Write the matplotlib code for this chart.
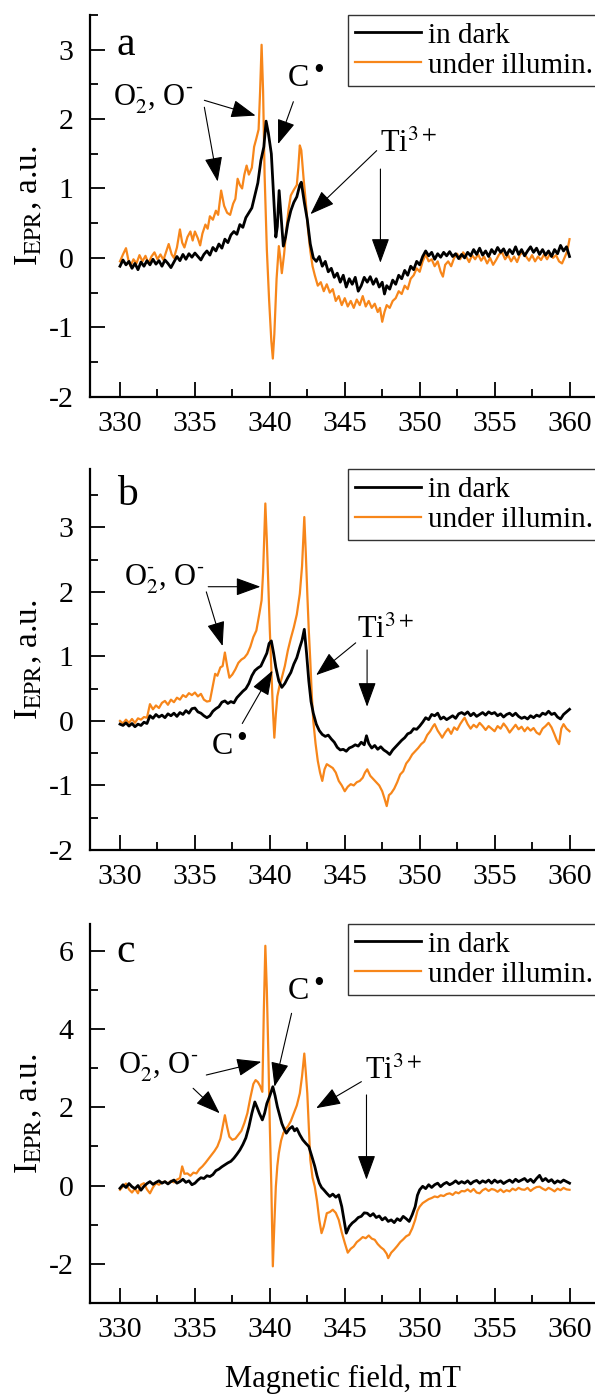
import matplotlib
matplotlib.use("Agg")
import matplotlib.pyplot as plt
from matplotlib.ticker import MultipleLocator
import numpy as np

# (field mT, I_EPR a.u.)
A_DARK = [
    (330.0, -0.12), (330.2, -0.03), (330.4, -0.10), (330.6, -0.05), (330.8, -0.15), (331.0, -0.08),
    (331.2, -0.17), (331.4, -0.06), (331.6, -0.12), (331.8, -0.04), (332.0, -0.10), (332.2, -0.02),
    (332.4, -0.09), (332.6, -0.04), (332.8, -0.12), (333.0, -0.03), (333.2, -0.08), (333.4, -0.14),
    (333.6, -0.06), (333.8, 0.02), (334.0, -0.04), (334.2, 0.05), (334.4, -0.02), (334.6, 0.06),
    (334.8, 0.01), (335.0, 0.07), (335.2, 0.02), (335.4, -0.03), (335.6, 0.05), (335.8, 0.10),
    (336.0, 0.04), (336.2, 0.15), (336.4, 0.10), (336.6, 0.20), (336.8, 0.14), (337.0, 0.27),
    (337.2, 0.22), (337.4, 0.33), (337.6, 0.38), (337.8, 0.34), (338.0, 0.48), (338.2, 0.44),
    (338.4, 0.58), (338.6, 0.65), (338.8, 0.72), (339.0, 0.90), (339.2, 1.08), (339.4, 1.40),
    (339.6, 1.60), (339.75, 1.97), (339.9, 1.80), (340.1, 1.50), (340.25, 0.90), (340.4, 0.30),
    (340.5, 0.45), (340.62, 0.97), (340.75, 0.60), (340.9, 0.17), (341.05, 0.30), (341.2, 0.50),
    (341.4, 0.68), (341.6, 0.80), (341.8, 0.88), (342.0, 1.05), (342.1, 1.09), (342.3, 0.80),
    (342.5, 0.55), (342.7, 0.20), (342.9, 0.00), (343.1, -0.05), (343.3, 0.02), (343.5, -0.12),
    (343.7, -0.05), (343.9, -0.20), (344.1, -0.15), (344.3, -0.28), (344.5, -0.22), (344.7, -0.35),
    (344.9, -0.25), (345.1, -0.42), (345.3, -0.30), (345.5, -0.38), (345.7, -0.28), (345.9, -0.48),
    (346.1, -0.40), (346.3, -0.28), (346.5, -0.35), (346.7, -0.27), (346.9, -0.38), (347.1, -0.30),
    (347.3, -0.42), (347.5, -0.35), (347.65, -0.52), (347.8, -0.40), (348.0, -0.45), (348.2, -0.32),
    (348.4, -0.38), (348.6, -0.25), (348.8, -0.30), (349.0, -0.18), (349.2, -0.25), (349.4, -0.12),
    (349.6, -0.17), (349.8, -0.05), (350.0, -0.10), (350.2, 0.02), (350.4, 0.10), (350.6, 0.03),
    (350.8, 0.08), (351.0, -0.02), (351.2, 0.06), (351.4, 0.01), (351.6, 0.08), (351.8, 0.03),
    (352.0, 0.09), (352.2, 0.02), (352.4, 0.06), (352.6, -0.01), (352.8, 0.05), (353.0, 0.00),
    (353.2, 0.08), (353.4, 0.03), (353.6, 0.12), (353.8, 0.05), (354.0, 0.14), (354.2, 0.04),
    (354.4, 0.10), (354.6, 0.02), (354.8, 0.12), (355.0, 0.06), (355.2, 0.15), (355.4, 0.08),
    (355.6, 0.13), (355.8, 0.04), (356.0, 0.12), (356.2, 0.06), (356.4, 0.16), (356.6, 0.05),
    (356.8, 0.12), (357.0, 0.03), (357.2, 0.10), (357.4, 0.16), (357.6, 0.08), (357.8, 0.14),
    (358.0, 0.05), (358.2, 0.12), (358.4, 0.04), (358.6, 0.10), (358.8, 0.02), (359.0, 0.12),
    (359.2, 0.06), (359.4, 0.18), (359.6, 0.10), (359.8, 0.16), (360.0, 0.02)]
A_LIGHT = [
    (330.0, -0.05), (330.2, 0.05), (330.4, 0.14), (330.55, -0.02), (330.7, -0.12), (330.9, -0.02),
    (331.1, -0.08), (331.3, 0.04), (331.5, -0.05), (331.7, 0.03), (331.9, -0.08), (332.1, 0.02),
    (332.3, 0.08), (332.5, -0.02), (332.7, 0.05), (332.9, -0.03), (333.1, 0.10), (333.25, 0.20),
    (333.45, 0.05), (333.6, 0.00), (333.8, 0.15), (334.0, 0.41), (334.15, 0.22), (334.3, 0.15),
    (334.5, 0.30), (334.7, 0.38), (334.85, 0.25), (335.0, 0.38), (335.2, 0.28), (335.35, 0.18),
    (335.5, 0.35), (335.7, 0.48), (335.85, 0.42), (336.0, 0.60), (336.2, 0.55), (336.4, 0.68),
    (336.55, 0.62), (336.75, 0.97), (336.95, 0.75), (337.15, 0.65), (337.35, 0.62), (337.55, 0.78),
    (337.7, 0.85), (337.85, 1.14), (338.0, 1.05), (338.15, 1.00), (338.3, 1.20), (338.45, 1.33),
    (338.6, 1.20), (338.8, 1.30), (338.95, 1.60), (339.1, 1.72), (339.25, 1.85), (339.35, 2.40),
    (339.45, 3.07), (339.55, 2.40), (339.65, 1.20), (339.8, 0.12), (339.95, -0.60), (340.1, -1.20),
    (340.2, -1.45), (340.3, -1.10), (340.45, -0.30), (340.6, 0.17), (340.7, 0.00), (340.8, -0.22),
    (340.95, 0.05), (341.1, 0.40), (341.25, 0.70), (341.4, 0.90), (341.6, 0.98), (341.8, 1.05),
    (341.9, 1.30), (342.0, 1.62), (342.1, 1.55), (342.25, 1.15), (342.4, 0.80), (342.55, 0.40),
    (342.7, 0.10), (342.85, -0.12), (343.0, -0.25), (343.2, -0.40), (343.4, -0.35), (343.6, -0.48),
    (343.8, -0.38), (344.0, -0.50), (344.2, -0.45), (344.4, -0.62), (344.6, -0.55), (344.8, -0.68),
    (345.0, -0.58), (345.2, -0.70), (345.4, -0.62), (345.6, -0.72), (345.8, -0.60), (346.0, -0.68),
    (346.2, -0.55), (346.4, -0.70), (346.6, -0.62), (346.8, -0.72), (347.0, -0.66), (347.2, -0.78),
    (347.35, -0.72), (347.5, -0.92), (347.65, -0.78), (347.8, -0.68), (348.0, -0.72), (348.2, -0.62),
    (348.4, -0.58), (348.6, -0.48), (348.8, -0.52), (349.0, -0.40), (349.2, -0.45), (349.4, -0.30),
    (349.6, -0.25), (349.8, -0.15), (350.0, -0.20), (350.2, -0.05), (350.4, 0.05), (350.6, -0.05),
    (350.8, -0.02), (351.0, -0.12), (351.2, -0.05), (351.4, -0.20), (351.55, -0.27), (351.7, -0.10),
    (351.9, -0.05), (352.1, -0.12), (352.3, 0.00), (352.5, 0.06), (352.7, -0.02), (352.9, 0.08),
    (353.1, 0.02), (353.3, -0.06), (353.5, 0.04), (353.7, -0.02), (353.9, 0.05), (354.1, -0.04),
    (354.3, 0.02), (354.5, -0.08), (354.7, 0.00), (354.9, -0.10), (355.1, -0.03), (355.3, 0.05),
    (355.5, 0.08), (355.7, -0.02), (355.9, 0.04), (356.1, -0.05), (356.3, 0.02), (356.5, -0.06),
    (356.7, 0.05), (356.9, 0.08), (357.1, 0.02), (357.3, -0.04), (357.5, 0.04), (357.7, -0.05),
    (357.9, 0.02), (358.1, -0.03), (358.3, 0.05), (358.5, -0.02), (358.7, 0.06), (358.9, 0.00),
    (359.1, 0.04), (359.3, -0.05), (359.5, -0.08), (359.7, 0.02), (359.85, 0.10), (360.0, 0.27)]

B_DARK = [
    (330.0, -0.05), (330.2, -0.07), (330.4, -0.03), (330.6, -0.08), (330.8, -0.04), (331.0, -0.09),
    (331.2, -0.05), (331.4, -0.07), (331.6, -0.02), (331.8, -0.04), (332.0, 0.08), (332.2, 0.04),
    (332.4, 0.10), (332.6, 0.06), (332.8, 0.09), (333.0, 0.05), (333.2, 0.11), (333.4, 0.08),
    (333.6, 0.12), (333.8, 0.07), (334.0, 0.13), (334.2, 0.10), (334.4, 0.16), (334.6, 0.12),
    (334.8, 0.19), (335.0, 0.20), (335.2, 0.14), (335.4, 0.12), (335.6, 0.08), (335.8, 0.05),
    (336.0, 0.08), (336.2, 0.15), (336.4, 0.19), (336.6, 0.22), (336.8, 0.29), (337.0, 0.31),
    (337.2, 0.27), (337.4, 0.30), (337.6, 0.28), (337.8, 0.36), (338.0, 0.41), (338.2, 0.46),
    (338.4, 0.50), (338.6, 0.58), (338.8, 0.70), (339.0, 0.78), (339.2, 0.82), (339.4, 0.85),
    (339.6, 0.95), (339.8, 1.05), (339.95, 1.20), (340.1, 1.24), (340.25, 1.05), (340.4, 0.83),
    (340.6, 0.62), (340.8, 0.52), (341.0, 0.58), (341.2, 0.67), (341.4, 0.75), (341.6, 0.88),
    (341.8, 0.98), (342.0, 1.14), (342.15, 1.25), (342.3, 1.42), (342.45, 1.05), (342.6, 0.62),
    (342.75, 0.30), (342.9, 0.12), (343.1, -0.05), (343.3, -0.15), (343.5, -0.21), (343.7, -0.24),
    (343.9, -0.22), (344.1, -0.28), (344.3, -0.33), (344.5, -0.41), (344.7, -0.45), (344.9, -0.44),
    (345.1, -0.47), (345.3, -0.42), (345.5, -0.40), (345.7, -0.37), (345.9, -0.39), (346.1, -0.33),
    (346.3, -0.37), (346.45, -0.23), (346.6, -0.35), (346.8, -0.42), (347.0, -0.38), (347.2, -0.44),
    (347.4, -0.40), (347.6, -0.45), (347.8, -0.48), (348.0, -0.52), (348.2, -0.45), (348.4, -0.40),
    (348.6, -0.35), (348.8, -0.30), (349.0, -0.26), (349.2, -0.20), (349.4, -0.18), (349.6, -0.12),
    (349.8, -0.13), (350.0, -0.08), (350.2, -0.02), (350.4, 0.05), (350.6, 0.02), (350.8, 0.10),
    (351.0, 0.08), (351.2, 0.12), (351.4, 0.03), (351.6, 0.06), (351.8, 0.02), (352.0, 0.05),
    (352.2, 0.08), (352.4, 0.04), (352.6, 0.11), (352.8, 0.13), (353.0, 0.10), (353.2, 0.14),
    (353.4, 0.08), (353.6, 0.12), (353.8, 0.07), (354.0, 0.10), (354.2, 0.13), (354.4, 0.09),
    (354.6, 0.14), (354.8, 0.11), (355.0, 0.13), (355.2, 0.08), (355.4, 0.11), (355.6, 0.06),
    (355.8, 0.10), (356.0, 0.12), (356.2, 0.08), (356.4, 0.12), (356.6, 0.07), (356.8, 0.04),
    (357.0, 0.06), (357.2, 0.03), (357.4, 0.08), (357.6, 0.05), (357.8, 0.09), (358.0, 0.07),
    (358.2, 0.12), (358.4, 0.10), (358.6, 0.15), (358.8, 0.10), (359.0, 0.12), (359.2, 0.06),
    (359.4, 0.03), (359.6, 0.10), (359.8, 0.14), (360.0, 0.18)]
B_LIGHT = [
    (330.0, 0.00), (330.2, -0.04), (330.4, 0.02), (330.6, -0.03), (330.8, 0.03), (331.0, -0.03),
    (331.2, 0.04), (331.4, 0.02), (331.6, 0.06), (331.8, 0.05), (332.0, 0.26), (332.2, 0.18),
    (332.4, 0.24), (332.6, 0.20), (332.8, 0.28), (333.0, 0.31), (333.2, 0.25), (333.4, 0.33),
    (333.6, 0.29), (333.8, 0.36), (334.0, 0.33), (334.2, 0.40), (334.4, 0.37), (334.6, 0.43),
    (334.8, 0.40), (335.0, 0.44), (335.2, 0.38), (335.4, 0.42), (335.6, 0.33), (335.8, 0.30),
    (336.0, 0.31), (336.2, 0.55), (336.35, 0.73), (336.5, 0.70), (336.7, 0.83), (336.85, 0.85),
    (337.0, 1.06), (337.15, 0.85), (337.3, 0.67), (337.5, 0.72), (337.7, 0.80), (337.9, 0.90),
    (338.1, 0.95), (338.3, 0.98), (338.5, 1.04), (338.7, 1.15), (338.9, 1.30), (339.1, 1.40),
    (339.3, 1.66), (339.45, 1.87), (339.55, 2.30), (339.65, 3.00), (339.7, 3.37), (339.8, 2.80),
    (339.9, 2.10), (340.0, 1.40), (340.1, 0.80), (340.2, 0.20), (340.3, -0.26), (340.4, 0.10),
    (340.5, 0.38), (340.65, 0.55), (340.8, 0.67), (341.0, 0.85), (341.2, 1.09), (341.4, 1.28),
    (341.6, 1.45), (341.8, 1.65), (342.0, 1.97), (342.15, 2.40), (342.3, 3.16), (342.4, 2.60),
    (342.5, 1.97), (342.6, 1.40), (342.7, 0.93), (342.8, 0.40), (342.9, 0.00), (343.05, -0.35),
    (343.2, -0.62), (343.35, -0.80), (343.5, -0.93), (343.65, -0.75), (343.8, -0.67), (344.0, -0.70),
    (344.2, -0.73), (344.4, -0.80), (344.6, -0.93), (344.8, -1.00), (345.0, -1.09), (345.2, -1.02),
    (345.4, -0.98), (345.6, -1.00), (345.8, -0.95), (346.0, -0.93), (346.2, -0.88), (346.35, -0.80),
    (346.5, -0.75), (346.7, -0.85), (346.9, -0.90), (347.1, -0.95), (347.3, -1.00), (347.5, -1.09),
    (347.65, -1.20), (347.8, -1.32), (347.95, -1.15), (348.1, -1.12), (348.3, -1.05), (348.5, -0.95),
    (348.7, -0.83), (348.9, -0.78), (349.1, -0.66), (349.3, -0.60), (349.5, -0.52), (349.7, -0.47),
    (349.9, -0.42), (350.1, -0.36), (350.3, -0.32), (350.5, -0.22), (350.7, -0.16), (350.9, -0.08),
    (351.0, -0.05), (351.2, -0.15), (351.4, -0.22), (351.5, -0.26), (351.7, -0.18), (351.9, -0.12),
    (352.1, -0.20), (352.3, -0.10), (352.5, -0.14), (352.7, -0.05), (352.9, 0.02), (353.0, 0.05),
    (353.2, -0.05), (353.4, -0.12), (353.6, -0.06), (353.8, -0.10), (354.0, -0.03), (354.2, -0.08),
    (354.4, -0.14), (354.6, -0.08), (354.8, -0.12), (355.0, -0.16), (355.2, -0.08), (355.4, -0.12),
    (355.6, -0.04), (355.8, -0.10), (356.0, -0.18), (356.2, -0.12), (356.4, -0.06), (356.6, -0.13),
    (356.8, -0.09), (357.0, -0.16), (357.2, -0.10), (357.4, -0.15), (357.6, -0.11), (357.8, -0.18),
    (358.0, -0.21), (358.2, -0.12), (358.4, -0.08), (358.6, -0.03), (358.8, -0.10), (359.0, -0.21),
    (359.15, -0.30), (359.3, -0.36), (359.45, -0.12), (359.6, -0.05), (359.8, -0.12), (360.0, -0.16)]

C_DARK = [
    (330.0, -0.07), (330.2, 0.02), (330.4, -0.05), (330.6, 0.05), (330.8, -0.03), (331.0, -0.08),
    (331.2, 0.00), (331.4, -0.12), (331.6, -0.02), (331.8, 0.05), (332.0, 0.10), (332.2, 0.03),
    (332.4, 0.08), (332.6, 0.12), (332.8, 0.06), (333.0, 0.10), (333.2, 0.04), (333.4, 0.10),
    (333.6, 0.14), (333.8, 0.06), (334.0, 0.10), (334.2, 0.16), (334.4, 0.08), (334.6, 0.12),
    (334.8, 0.02), (335.0, 0.06), (335.2, 0.14), (335.4, 0.20), (335.6, 0.18), (335.8, 0.25),
    (336.0, 0.23), (336.2, 0.28), (336.4, 0.38), (336.6, 0.42), (336.8, 0.48), (337.0, 0.53),
    (337.2, 0.58), (337.4, 0.62), (337.6, 0.70), (337.8, 0.80), (338.0, 0.91), (338.2, 1.05),
    (338.4, 1.22), (338.6, 1.50), (338.8, 1.85), (339.0, 2.14), (339.15, 2.00), (339.3, 1.85),
    (339.5, 1.68), (339.65, 1.85), (339.8, 2.10), (340.0, 2.30), (340.2, 2.53), (340.35, 2.30),
    (340.5, 2.02), (340.65, 1.80), (340.8, 1.59), (340.95, 1.45), (341.1, 1.34), (341.3, 1.45),
    (341.5, 1.51), (341.65, 1.40), (341.8, 1.46), (342.0, 1.30), (342.2, 1.17), (342.4, 1.08),
    (342.6, 1.00), (342.8, 0.75), (343.0, 0.49), (343.15, 0.25), (343.3, 0.06), (343.45, -0.05),
    (343.6, -0.11), (343.8, -0.20), (344.0, -0.28), (344.2, -0.22), (344.4, -0.30), (344.6, -0.24),
    (344.8, -0.54), (345.0, -1.00), (345.1, -1.22), (345.3, -1.05), (345.5, -0.96), (345.7, -0.90),
    (345.9, -0.82), (346.1, -0.79), (346.3, -0.70), (346.5, -0.71), (346.7, -0.78), (346.9, -0.72),
    (347.1, -0.82), (347.3, -0.78), (347.5, -0.88), (347.7, -0.82), (347.9, -0.92), (348.1, -0.88),
    (348.3, -0.95), (348.5, -0.85), (348.7, -0.90), (348.9, -0.79), (349.1, -0.85), (349.3, -0.92),
    (349.5, -0.75), (349.7, -0.54), (349.85, -0.25), (350.0, -0.11), (350.2, -0.02), (350.4, -0.08),
    (350.6, 0.02), (350.8, -0.05), (351.0, 0.02), (351.2, 0.06), (351.4, -0.03), (351.6, 0.04),
    (351.8, 0.08), (352.0, 0.02), (352.2, 0.06), (352.4, 0.12), (352.6, 0.05), (352.8, 0.10),
    (353.0, 0.06), (353.2, 0.12), (353.4, 0.04), (353.6, 0.10), (353.8, 0.13), (354.0, 0.06),
    (354.2, 0.12), (354.4, 0.08), (354.6, 0.14), (354.8, 0.06), (355.0, 0.14), (355.2, 0.08),
    (355.4, 0.12), (355.6, 0.05), (355.8, 0.10), (356.0, 0.14), (356.2, 0.08), (356.4, 0.16),
    (356.6, 0.10), (356.8, 0.14), (357.0, 0.18), (357.2, 0.10), (357.4, 0.16), (357.6, 0.08),
    (357.8, 0.18), (358.0, 0.26), (358.2, 0.12), (358.4, 0.18), (358.6, 0.10), (358.8, 0.15),
    (359.0, 0.06), (359.2, 0.12), (359.4, 0.08), (359.6, 0.14), (359.8, 0.10), (360.0, 0.06)]
C_LIGHT = [
    (330.0, -0.11), (330.2, -0.02), (330.4, 0.05), (330.6, -0.10), (330.8, -0.18), (331.0, -0.08),
    (331.2, -0.20), (331.4, 0.02), (331.6, 0.06), (331.8, -0.10), (332.0, -0.20), (332.2, -0.05),
    (332.4, 0.06), (332.6, 0.02), (332.8, 0.08), (333.0, 0.10), (333.2, 0.05), (333.4, 0.12),
    (333.6, 0.08), (333.8, 0.15), (334.0, 0.19), (334.15, 0.49), (334.3, 0.30), (334.5, 0.31),
    (334.7, 0.25), (334.9, 0.33), (335.1, 0.31), (335.3, 0.42), (335.5, 0.49), (335.7, 0.58),
    (335.9, 0.68), (336.1, 0.78), (336.3, 0.88), (336.5, 1.00), (336.7, 1.20), (336.85, 1.50),
    (337.0, 1.80), (337.15, 1.50), (337.3, 1.25), (337.5, 1.17), (337.7, 1.20), (337.9, 1.30),
    (338.1, 1.40), (338.3, 1.60), (338.5, 1.85), (338.7, 2.25), (338.9, 2.60), (339.05, 2.70),
    (339.2, 2.65), (339.35, 2.55), (339.5, 2.40), (339.6, 4.50), (339.7, 6.14), (339.8, 5.00),
    (339.9, 3.38), (340.0, 1.50), (340.1, -0.03), (340.2, -2.07), (340.3, -1.00), (340.4, -0.03),
    (340.5, 0.50), (340.6, 0.83), (340.75, 1.15), (340.9, 1.34), (341.05, 1.45), (341.2, 1.51),
    (341.4, 1.65), (341.6, 1.85), (341.8, 2.05), (342.0, 2.36), (342.15, 2.80), (342.3, 3.38),
    (342.4, 2.90), (342.5, 2.36), (342.6, 1.50), (342.7, 0.66), (342.85, 0.20), (343.0, -0.03),
    (343.15, -0.40), (343.3, -0.88), (343.45, -1.22), (343.6, -1.05), (343.8, -0.71), (344.0, -0.68),
    (344.2, -0.62), (344.4, -0.70), (344.6, -0.88), (344.8, -1.20), (345.0, -1.47), (345.2, -1.72),
    (345.4, -1.62), (345.6, -1.56), (345.8, -1.45), (346.0, -1.39), (346.2, -1.32), (346.4, -1.35),
    (346.6, -1.28), (346.8, -1.36), (347.0, -1.39), (347.2, -1.50), (347.4, -1.58), (347.6, -1.64),
    (347.8, -1.75), (347.9, -1.86), (348.1, -1.72), (348.3, -1.64), (348.5, -1.55), (348.7, -1.45),
    (348.9, -1.38), (349.1, -1.30), (349.3, -1.26), (349.5, -1.10), (349.7, -0.88), (349.85, -0.65),
    (350.0, -0.54), (350.2, -0.45), (350.4, -0.40), (350.6, -0.35), (350.8, -0.32), (351.0, -0.28),
    (351.2, -0.30), (351.4, -0.25), (351.6, -0.27), (351.8, -0.22), (352.0, -0.20), (352.2, -0.24),
    (352.4, -0.17), (352.6, -0.20), (352.8, -0.14), (353.0, -0.15), (353.2, -0.10), (353.4, -0.16),
    (353.6, -0.09), (353.8, -0.18), (354.0, -0.20), (354.2, -0.12), (354.4, -0.08), (354.6, -0.14),
    (354.8, -0.09), (355.0, -0.11), (355.2, -0.16), (355.4, -0.10), (355.6, -0.17), (355.8, -0.12),
    (356.0, -0.15), (356.2, -0.08), (356.4, -0.12), (356.6, -0.06), (356.8, -0.10), (357.0, -0.11),
    (357.2, -0.06), (357.4, -0.14), (357.6, -0.08), (357.8, -0.04), (358.0, -0.03), (358.2, -0.08),
    (358.4, -0.12), (358.6, -0.06), (358.8, -0.10), (359.0, -0.15), (359.2, -0.08), (359.4, -0.12),
    (359.6, -0.06), (359.8, -0.10), (360.0, -0.11)]

PANELS = ['a', 'b', 'c']
YLIMS = [(-2, 3.5), (-2, 3.9), (-3, 6.7)]
LABELS = ['in dark', 'under illumin.']

plt.rcParams['font.family'] = 'Liberation Serif'
plt.rcParams['mathtext.fontset'] = 'stix'
plt.rcParams['axes.unicode_minus'] = False

DARK_C = 'black'
LIGHT_C = '#f7861a'

fig = plt.figure(figsize=(5.95, 13.95), dpi=100)
# axes boxes in figure fraction (left, bottom, width, height)
boxes = [(0.1513, 0.7156, 0.8487, 0.2737),
         (0.1513, 0.3907, 0.8487, 0.2729),
         (0.1513, 0.0662, 0.8487, 0.2715)]
data = [(A_DARK, A_LIGHT), (B_DARK, B_LIGHT), (C_DARK, C_LIGHT)]

arrow_kw = dict(arrowstyle='-|>,head_length=0.55,head_width=0.2', color='black',
                lw=0.8, shrinkA=0, shrinkB=0, mutation_scale=28)
axes = []
for i, box in enumerate(boxes):
    ax = fig.add_axes(box)
    axes.append(ax)
    dark = np.array(data[i][0]).T
    light = np.array(data[i][1]).T
    l1, = ax.plot(dark[0], dark[1], color=DARK_C, lw=2.0, zorder=3, label=LABELS[0])
    l2, = ax.plot(light[0], light[1], color=LIGHT_C, lw=1.6, zorder=2, label=LABELS[1])
    ax.set_xlim(328, 361.7)
    ax.set_ylim(*YLIMS[i])
    for s in ['top', 'right']:
        ax.spines[s].set_visible(False)
    for s in ['left', 'bottom']:
        ax.spines[s].set_linewidth(1.6)
    ax.xaxis.set_major_locator(MultipleLocator(5))
    ax.xaxis.set_minor_locator(MultipleLocator(2.5))
    if i < 2:
        ax.yaxis.set_major_locator(MultipleLocator(1))
        ax.yaxis.set_minor_locator(MultipleLocator(0.5))
    else:
        ax.yaxis.set_major_locator(MultipleLocator(2))
        ax.yaxis.set_minor_locator(MultipleLocator(1))
    ax.tick_params(which='major', direction='in', length=11, width=1.3, labelsize=21.5)
    ax.tick_params(which='minor', direction='in', length=5.5, width=1.3)
    ax.tick_params(axis='x', which='major', pad=10)
    ax.tick_params(axis='y', which='major', pad=12)
    ax.set_ylabel(r'I$_{\mathrm{EPR}}$, a.u.', fontsize=24)
    ax.yaxis.set_label_coords(-0.09, 0.5)
    ax.text(0.053, [0.921, 0.933, 0.926][i], PANELS[i], transform=ax.transAxes,
            fontsize=30, ha='left', va='center')
    leg = ax.legend(handles=[l1, l2], loc='upper left', bbox_to_anchor=(0.511, 1.0),
                    fontsize=21, frameon=True, fancybox=False, edgecolor='black',
                    borderaxespad=0, handlelength=2.25, handletextpad=0.25,
                    labelspacing=0.12, borderpad=0.25)
    leg.get_frame().set_linewidth(1.0)
    leg.set_zorder(5)

axes[2].set_xlabel('Magnetic field, mT', fontsize=22, labelpad=16)

fs = 22
oxy = r'O$_2^{\text{-}}$, O$^{\text{-}}$'


def c_radical(ax, x, y):
    # "C" with a raised radical dot
    ax.text(x, y, 'C', fontsize=fs + 1, ha='left', va='center')
    ax.annotate('\u2022', xy=(x, y), xytext=(22, 5), textcoords='offset points',
                fontsize=22, ha='center', va='center')


# panel a annotations
ax = axes[0]
ax.text(329.55, 2.29, oxy, fontsize=fs, ha='left', va='center')
ax.annotate('', xy=(339.05, 2.05), xytext=(335.63, 2.27), arrowprops=arrow_kw)
ax.annotate('', xy=(336.52, 1.10), xytext=(335.63, 2.17), arrowprops=arrow_kw)
c_radical(ax, 341.2, 2.58)
ax.annotate('', xy=(340.55, 1.64), xytext=(341.57, 2.25), arrowprops=arrow_kw)
ax.text(347.35, 1.64, r'Ti$^{3+}$', fontsize=fs, ha='left', va='center')
ax.annotate('', xy=(342.71, 0.63), xytext=(347.13, 1.545), arrowprops=arrow_kw)
ax.annotate('', xy=(347.38, -0.07), xytext=(347.38, 1.28), arrowprops=arrow_kw)

# panel b annotations
ax = axes[1]
ax.text(330.28, 2.20, oxy, fontsize=fs, ha='left', va='center')
ax.annotate('', xy=(339.37, 2.08), xytext=(335.89, 2.08), arrowprops=arrow_kw)
ax.annotate('', xy=(336.85, 1.16), xytext=(335.76, 2.00), arrowprops=arrow_kw)
c_radical(ax, 336.1, -0.40)
ax.annotate('', xy=(340.18, 0.78), xytext=(338.16, -0.04), arrowprops=arrow_kw)
ax.text(345.85, 1.40, r'Ti$^{3+}$', fontsize=fs, ha='left', va='center')
ax.annotate('', xy=(343.09, 0.71), xytext=(345.73, 1.21), arrowprops=arrow_kw)
ax.annotate('', xy=(346.49, 0.22), xytext=(346.49, 1.10), arrowprops=arrow_kw)

# panel c annotations
ax = axes[2]
ax.text(329.88, 3.04, oxy, fontsize=fs, ha='left', va='center')
ax.annotate('', xy=(339.43, 3.17), xytext=(335.76, 2.83), arrowprops=arrow_kw)
ax.annotate('', xy=(336.65, 1.85), xytext=(334.88, 2.49), arrowprops=arrow_kw)
c_radical(ax, 341.2, 4.96)
ax.annotate('', xy=(340.31, 2.53), xytext=(341.45, 4.41), arrowprops=arrow_kw)
ax.text(346.35, 2.92, r'Ti$^{3+}$', fontsize=fs, ha='left', va='center')
ax.annotate('', xy=(343.09, 1.98), xytext=(346.11, 2.66), arrowprops=arrow_kw)
ax.annotate('', xy=(346.45, 0.15), xytext=(346.45, 2.32), arrowprops=arrow_kw)

fig.savefig('out.png', dpi=100)
